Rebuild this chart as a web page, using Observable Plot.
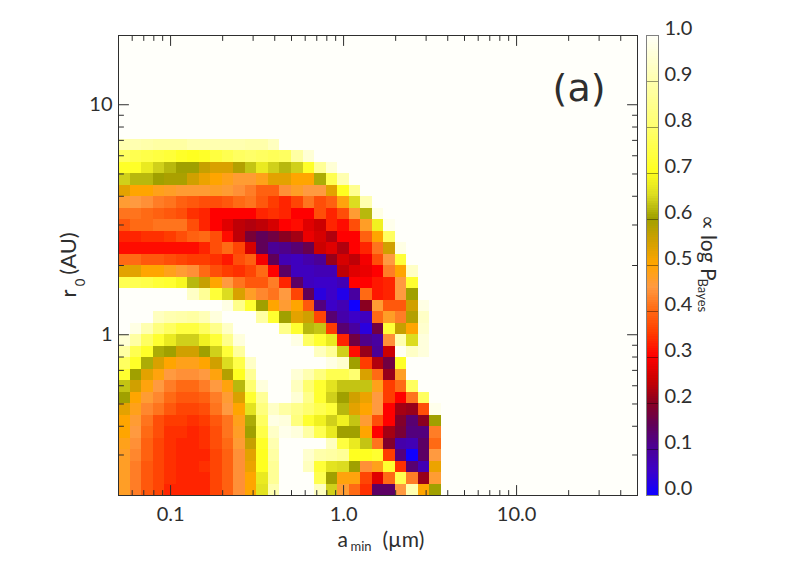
<!DOCTYPE html>
<html><head><meta charset="utf-8">
<script src="https://cdn.jsdelivr.net/npm/d3@7"></script>
<script src="https://cdn.jsdelivr.net/npm/@observablehq/plot@0.6"></script>
<style>
html,body{margin:0;padding:0;background:#fff}
#wrap{position:relative;width:789px;height:564px;overflow:hidden}
#wrap>svg,#wrap>div{position:absolute;top:0;left:0}
</style></head><body><div id="wrap"></div>
<script>
// Grid of the map (cell counts per decade)
const aminStart = 0.05, cellsPerDecadeX = 15;
const r0Start = 0.2, cellsPerDecadeY = 20, rowCount = 31;
// Values, top row first; each row starts at the first column; omitted cells are 1.0
const logP = [
[.90,.90,.89,.88,.88,.88,.90,.90,.90,.90,.90,.89,.89,.92],
[.78,.76,.75,.74,.73,.71,.70,.71,.74,.76,.78,.79,.78,.77,.78,.88,.95],
[.71,.71,.67,.64,.62,.60,.60,.56,.54,.54,.58,.63,.67,.64,.62,.64,.71,.86,.95],
[.64,.62,.62,.60,.59,.59,.55,.52,.50,.48,.46,.46,.48,.53,.53,.50,.50,.61,.76,.90],
[.53,.50,.50,.48,.47,.46,.46,.46,.47,.46,.44,.42,.39,.39,.44,.47,.45,.45,.53,.70,.85],
[.46,.45,.44,.42,.41,.39,.38,.37,.37,.38,.40,.41,.38,.35,.33,.36,.41,.37,.39,.49,.65,.90],
[.41,.41,.40,.39,.38,.37,.34,.33,.30,.30,.30,.30,.33,.34,.33,.30,.30,.37,.33,.37,.46,.62,.97],
[.38,.40,.40,.41,.41,.41,.37,.33,.30,.27,.24,.23,.24,.26,.30,.31,.27,.25,.33,.31,.37,.47,.68,.98],
[.33,.33,.34,.34,.35,.37,.39,.40,.37,.31,.24,.18,.15,.17,.20,.22,.28,.26,.23,.30,.30,.39,.50,.78],
[.31,.31,.31,.31,.31,.31,.31,.33,.37,.40,.36,.26,.15,.10,.11,.13,.16,.25,.27,.23,.30,.33,.41,.55,.97],
[.40,.40,.38,.38,.37,.36,.35,.35,.34,.32,.37,.39,.29,.15,.07,.06,.08,.10,.21,.26,.24,.29,.37,.45,.73],
[.53,.53,.50,.50,.48,.46,.44,.40,.37,.35,.34,.36,.40,.30,.14,.06,.06,.07,.07,.24,.27,.28,.30,.42,.50,.93],
[.76,.76,.75,.73,.72,.69,.62,.56,.50,.45,.41,.38,.38,.42,.33,.14,.06,.05,.05,.07,.30,.30,.32,.33,.45,.72],
[1,1,1,1,1,1,.93,.86,.73,.65,.54,.47,.43,.41,.45,.36,.15,.03,.05,.02,.09,.40,.32,.33,.45,.60],
[1,1,1,1,1,1,1,1,1,.97,.84,.72,.60,.50,.46,.50,.38,.12,.05,.07,.00,.20,.46,.38,.38,.55,.97],
[1,1,1,.92,.90,.89,.88,.91,.96,1,1,1,.88,.72,.60,.53,.55,.36,.13,.08,.05,.06,.40,.47,.42,.58,.93],
[1,.97,.90,.82,.78,.74,.74,.78,.84,.93,1,1,1,1,.84,.72,.62,.63,.35,.13,.09,.03,.17,.73,.56,.50,.94],
[.95,.88,.78,.72,.67,.64,.64,.68,.73,.84,.96,1,1,1,1,.97,.78,.72,.67,.33,.17,.11,.09,.44,.90,.65,.96],
[.88,.76,.71,.61,.60,.55,.55,.60,.64,.73,.87,1,1,1,1,1,1,.92,.86,.64,.31,.21,.10,.25,.99,.93,.96],
[.78,.71,.61,.54,.50,.48,.48,.50,.55,.65,.75,.93,1,1,1,1,1,1,.97,.94,.60,.35,.23,.17,.71],
[.72,.60,.53,.49,.45,.44,.44,.45,.49,.58,.70,.86,1,1,1,.95,.90,.82,.76,.76,.80,.54,.40,.21,.47],
[.63,.55,.49,.45,.42,.40,.40,.42,.45,.49,.62,.80,.96,1,1,.92,.80,.72,.66,.63,.63,.63,.48,.35,.40,.78],
[.60,.50,.46,.43,.40,.38,.38,.39,.42,.46,.54,.72,.86,1,1,.95,.84,.72,.64,.60,.55,.52,.45,.35,.30,.41,.78],
[.53,.48,.43,.41,.38,.36,.36,.37,.41,.45,.50,.66,.82,.93,.88,.84,.80,.76,.73,.62,.53,.50,.45,.30,.22,.21,.37,.98],
[.50,.46,.41,.37,.35,.35,.34,.35,.38,.41,.48,.61,.78,.97,.96,.82,.72,.68,.64,.68,.63,.46,.37,.30,.19,.13,.20,.60],
[.50,.45,.40,.37,.34,.34,.33,.34,.37,.41,.47,.60,.75,.93,.98,.96,.88,.76,.67,.60,.60,.50,.30,.22,.18,.12,.12,.42],
[.48,.44,.39,.36,.34,.33,.33,.34,.37,.40,.46,.56,.71,.90,1,1,1,1,.92,.74,.67,.63,.41,.19,.08,.07,.14,.40],
[.47,.43,.39,.36,.34,.33,.33,.33,.36,.39,.44,.53,.70,.88,1,1,.94,.89,.88,.86,.70,.70,.72,.35,.12,.00,.14,.45],
[.47,.42,.38,.36,.34,.33,.33,.34,.36,.39,.44,.52,.70,.86,1,1,.92,.73,.66,.65,.60,.44,.48,.72,.34,.13,.07,.52],
[.47,.42,.38,.36,.34,.33,.33,.33,.36,.39,.44,.50,.67,.86,1,1,1,.76,.60,.49,.49,.36,.27,.40,.76,.42,.21,.46],
[.47,.42,.38,.36,.33,.33,.33,.33,.36,.39,.44,.50,.66,.90,1,1,1,.92,.64,.46,.40,.34,.14,.14,.45,.90,.50,.60]
];
const xMajor = [0.1, 1, 10];
const xMinor = [.06,.07,.08,.09,.2,.3,.4,.5,.6,.7,.8,.9,2,3,4,5,6,7,8,9,20,30,40];
const yMajor = [1, 10];
const yMinor = [.2,.3,.4,.5,.6,.7,.8,.9,2,3,4,5,6,7,8,9];
const barTicks = [0,.1,.2,.3,.4,.5,.6,.7,.8,.9,1];
const colorStops = [0,.05,.1,.15,.2,.25,.3,.35,.4,.45,.5,.55,.6,.65,.7,.8,.9,1];
const colorRange = ["#1000ff","#3c00c8","#4b0096","#600058","#8a0020","#cc0000","#ff0000","#ff3c00","#ff6a14","#ff9a40","#ffa500","#d0a000","#a0a000","#dcdc20","#ffff20","#ffff70","#ffffb0","#fffffa"];

const ink = "#2e2e2e", font = "Lato, sans-serif";
const cells = [];
logP.forEach((row, k) => row.forEach((v, j) => { if (v < 1) cells.push({
  x1: aminStart * 10 ** (j / cellsPerDecadeX), x2: aminStart * 10 ** ((j + 1) / cellsPerDecadeX),
  y1: r0Start * 10 ** ((rowCount - 1 - k) / cellsPerDecadeY), y2: r0Start * 10 ** ((rowCount - k) / cellsPerDecadeY), v }); }));
const tickShape = {draw(c, l) { c.moveTo(0, 0); c.lineTo(0, -l); }};
const xt = (d, a, rot, len) => Plot.vector(d, {x: v => v, frameAnchor: a, rotate: rot, length: len, anchor: "start", shape: tickShape, stroke: ink, strokeWidth: 1});
const yt = (d, a, rot, len) => Plot.vector(d, {y: v => v, frameAnchor: a, rotate: rot, length: len, anchor: "start", shape: tickShape, stroke: ink, strokeWidth: 1});
const colorScale = {type: "linear", domain: colorStops, range: colorRange, interpolate: "rgb", clamp: true};
const lbl = (text, o) => Plot.text([text], {text: d => d, fill: ink, ...o});

const main = Plot.plot({
  width: 789, height: 564, marginLeft: 118, marginRight: 152, marginTop: 35, marginBottom: 69,
  style: {fontFamily: font, background: "transparent"},
  x: {type: "log", domain: [0.05, 50]},
  y: {type: "log", domain: [0.2, 20]},
  color: colorScale,
  marks: [
    Plot.frame({fill: "#fffffa", stroke: null}),
    Plot.rect(cells, {x1: "x1", x2: "x2", y1: "y1", y2: "y2", fill: "v", shapeRendering: "crispEdges"}),
    xt(xMajor, "bottom", 0, 10), xt(xMinor, "bottom", 0, 5),
    xt(xMajor, "top", 180, 10), xt(xMinor, "top", 180, 5),
    yt(yMajor, "left", 90, 10), yt(yMinor, "left", 90, 5),
    yt(yMajor, "right", -90, 10), yt(yMinor, "right", -90, 5),
    Plot.axisX({anchor: "bottom", ticks: xMajor, tickSize: 0, tickPadding: 11, tickFormat: d3.format(".1f"), fontSize: 20, label: null, color: ink}),
    Plot.axisY({anchor: "left", ticks: yMajor, tickSize: 0, tickPadding: 6, tickFormat: d3.format("d"), fontSize: 20, label: null, color: ink}),
    Plot.frame({stroke: ink, strokeWidth: 1}),
    lbl("(a)", {frameAnchor: "top-right", dx: -32, dy: 53, fontSize: 38, fontFamily: "DejaVu Sans", textAnchor: "end", lineAnchor: "middle"}),
    lbl("a", {frameAnchor: "bottom-left", dx: 219, dy: 51, fontSize: 21, textAnchor: "start", lineAnchor: "bottom"}),
    lbl("min", {frameAnchor: "bottom-left", dx: 232, dy: 55, fontSize: 13, textAnchor: "start", lineAnchor: "bottom"}),
    lbl("(µm)", {frameAnchor: "bottom-left", dx: 264, dy: 51, fontSize: 21, textAnchor: "start", lineAnchor: "bottom"}),
    lbl("r", {frameAnchor: "left", dx: -50, dy: 28, fontSize: 22, rotate: -90, textAnchor: "middle"}),
    lbl("0", {frameAnchor: "left", dx: -38, dy: 17, fontSize: 13, rotate: -90, textAnchor: "middle"}),
    lbl("(AU)", {frameAnchor: "left", dx: -50, dy: -12, fontSize: 22, rotate: -90, textAnchor: "middle"})
  ]
});

const barLevels = d3.range(0, 1, 0.005);
const bar = Plot.plot({
  width: 149, height: 564, marginLeft: 6, marginRight: 131, marginTop: 35, marginBottom: 69,
  style: {fontFamily: font, background: "transparent"},
  x: {domain: [0, 1], axis: null},
  y: {domain: [0, 1], axis: null},
  color: colorScale,
  marks: [
    Plot.rect(barLevels, {x1: 0, x2: 1, y1: d => d, y2: d => d + 0.005, fill: d => d, shapeRendering: "crispEdges"}),
    Plot.ruleY(barTicks, {stroke: "#000", strokeOpacity: 0.4}),
    Plot.axisY({anchor: "right", ticks: barTicks, tickSize: 0, tickPadding: 6, dy: -7, tickFormat: d3.format(".1f"), fontSize: 20, label: null, color: ink}),
    Plot.frame({stroke: "#808080", strokeWidth: 1}),
    lbl("∝ log P", {frameAnchor: "top-left", dx: 69, dy: 214 - 35, fontSize: 21, rotate: 90, textAnchor: "start"}),
    lbl("Bayes", {frameAnchor: "top-left", dx: 61, dy: 278 - 35, fontSize: 13, rotate: 90, textAnchor: "start"})
  ]
});
const wrap = document.getElementById("wrap");
wrap.append(main);
bar.style.left = "640px";
wrap.append(bar);
</script></body></html>
